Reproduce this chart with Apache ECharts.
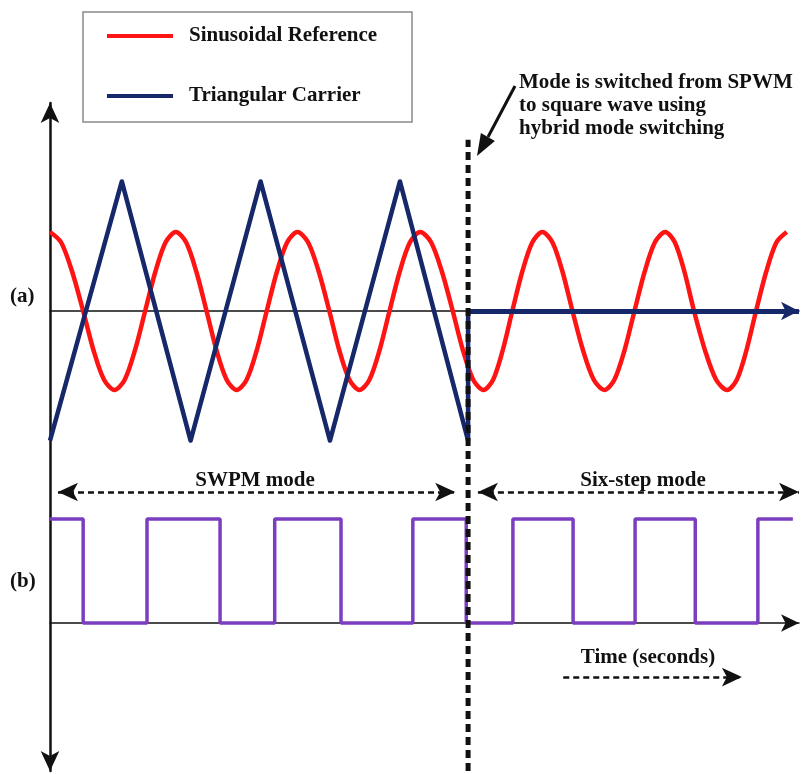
<!DOCTYPE html>
<html><head><meta charset="utf-8">
<script src="https://cdn.jsdelivr.net/npm/echarts@6/dist/echarts.min.js"></script>
<style>html,body{margin:0;padding:0;background:#fff}#c{width:802px;height:774px}</style>
</head><body><div id="c"></div>
<script>
// ---- data (time in ms, amplitudes in per-unit) ----
const sineName = 'Sinusoidal Reference';
const carrierName = 'Triangular Carrier';
const sineRef = [[0,1],[1.8,0.87],[3.6,0.5],[5.4,0],[7.1,-0.5],[8.8,-0.87],[10.5,-1],[12.17,-0.87],[13.83,-0.5],
  [15.5,0],[17.17,0.5],[18.83,0.87],[20.5,1],[22.17,0.87],[23.83,0.5],[25.5,0],[27.13,-0.5],[28.77,-0.87],
  [30.4,-1],[32.03,-0.87],[33.67,-0.5],[35.3,0],[36.97,0.5],[38.63,0.87],[40.3,1],[42.03,0.87],[43.77,0.5],
  [45.5,0],[47.13,-0.5],[48.77,-0.87],[50.4,-1],[52.03,-0.87],[53.67,-0.5],[55.3,0],[56.97,0.5],[58.63,0.87],
  [60.3,1],[62.07,0.87],[63.83,0.5],[65.6,0],[67.27,-0.5],[68.93,-0.87],[70.6,-1],[72.17,-0.87],[73.73,-0.5],
  [75.3,0],[76.93,0.5],[78.57,0.87],[80.2,1],[81.83,0.87],[83.47,0.5],[85.1,0],[86.83,-0.5],[88.57,-0.87],
  [90.3,-1],[91.93,-0.87],[93.57,-0.5],[95.2,0],[96.87,0.5],[98.53,0.87],[100.2,1],[101.77,0.87],[103.33,0.5],
  [104.9,0],[106.7,-0.5],[108.5,-0.87],[110.3,-1],[111.87,-0.87],[113.43,-0.5],[115,0],[116.67,0.5],[118.33,0.87],
  [120,1]];
const carrier = [[0,-1.64],[11.7,1.64],[22.9,-1.64],[34.3,1.64],[45.6,-1.64],[57,1.64],[68.1,-1.64],[68.1,0]];
const carrierFlatEnd = 122;
const switchTime = 68.1;
const gateSignal = [[0,1],[5.4,0],[15.8,1],[27.7,0],[36.6,1],[47.4,0],[59.1,1],[67.8,0],[75.4,1],[85.2,0],
  [95.3,1],[105.1,0],[115.3,1],[121,1]];
const swpmSpan = [1.3, 66.0];
const sixStepSpan = [69.7, 122];
const timeSpan = [83.6, 112.7];
const modeArrowLevel = 1.26;
const timeArrowLevel = -0.52;
const switchLineExtent = [0, 0.945];
const tMax = 122;

const FONT = 'Liberation Serif';
const RED = '#ff1414', NAVY = '#17286a', PURPLE = '#7b3ec0';
const TXT = 'bold 21px "Liberation Serif"';

const chart = echarts.init(document.getElementById('c'), null, {renderer:'canvas'});
const xBase = (idx, showLine, arrow) => ({
  type:'value', gridIndex: idx, min:0, max:tMax,
  axisLabel:{show:false}, axisTick:{show:false}, splitLine:{show:false},
  axisLine:{show:showLine, onZero:true, symbol: arrow ? ['none','arrow'] : ['none','none'],
    symbolSize:[13,18], lineStyle:{color:'#111', width:1.5}}
});
chart.setOption({
  animation:false,
  backgroundColor:'#fff',
  grid:[
    {left:50, width:749, top:153, height:316},
    {left:50, width:749, top:477.4, height:291.2},
    {left:50, width:749, top:103, height:668}
  ],
  xAxis:[ xBase(0,true,false), xBase(1,true,true), Object.assign(xBase(2,false,false),{show:false}) ],
  yAxis:[
    {type:'value', gridIndex:0, min:-2, max:2, show:false},
    {type:'value', gridIndex:1, min:-1.4, max:1.4, show:false},
    {type:'value', gridIndex:2, min:0, max:1, axisLabel:{show:false}, axisTick:{show:false}, splitLine:{show:false},
      axisLine:{show:true, symbol:['arrow','arrow'], symbolSize:[14,20], lineStyle:{color:'#111', width:2.5}}}
  ],
  legend:{
    orient:'vertical', left:83, top:12, data:[sineName, carrierName],
    icon:'rect', itemWidth:66, itemHeight:4, itemGap:38,
    padding:[13,35,15,24], borderColor:'#8a8a8a', borderWidth:1.5, backgroundColor:'#fff',
    selectedMode:false,
    textStyle:{fontFamily:FONT, fontWeight:'bold', fontSize:21, color:'#111', lineHeight:22, padding:[0,0,0,11]}
  },
  series:[
    {type:'line', name:sineName, xAxisIndex:0, yAxisIndex:0, data:sineRef, smooth:0.3, showSymbol:false,
      lineStyle:{color:RED, width:4.5, join:'round'}, itemStyle:{color:RED}, z:2, silent:true},
    {type:'line', name:carrierName, xAxisIndex:0, yAxisIndex:0, data:carrier, showSymbol:false,
      lineStyle:{color:NAVY, width:4.5, join:'round'}, itemStyle:{color:NAVY}, z:3, silent:true,
      markLine:{silent:true, animation:false, label:{show:false}, symbolSize:[14,18],
        lineStyle:{color:NAVY, width:5, type:'solid'},
        data:[[{coord:[switchTime,0], symbol:'none'},{coord:[carrierFlatEnd,0], symbol:'arrow'}]]}},
    {type:'line', name:'Gate', xAxisIndex:1, yAxisIndex:1, data:gateSignal, step:'end', showSymbol:false,
      lineStyle:{color:PURPLE, width:3.5}, itemStyle:{color:PURPLE}, z:3, silent:true,
      markLine:{silent:true, animation:false, label:{show:false}, symbolSize:[14,20],
        lineStyle:{color:'#111', width:2.5, type:[6,4]},
        data:[
          [{coord:[swpmSpan[0],modeArrowLevel], symbol:'arrow'},{coord:[swpmSpan[1],modeArrowLevel], symbol:'arrow'}],
          [{coord:[sixStepSpan[0],modeArrowLevel], symbol:'arrow'},{coord:[sixStepSpan[1],modeArrowLevel], symbol:'arrow'}],
          [{coord:[timeSpan[0],timeArrowLevel], symbol:'none'},{coord:[timeSpan[1],timeArrowLevel], symbol:'arrow'}]
        ]}},
    {type:'line', name:'switch', xAxisIndex:2, yAxisIndex:2, showSymbol:false, silent:true, z:5,
      data:[[switchTime, switchLineExtent[0]],[switchTime, switchLineExtent[1]]],
      lineStyle:{color:'#111', width:5, type:[8,5]}}
  ],
  graphic:[
    {type:'text', left:10, top:286, style:{text:'(a)', font:TXT, fill:'#111'}},
    {type:'text', left:10, top:571, style:{text:'(b)', font:TXT, fill:'#111'}},
    {type:'text', x:255, y:481, style:{text:'SWPM mode', font:TXT, fill:'#111', align:'center', verticalAlign:'middle'}},
    {type:'text', x:643, y:481, style:{text:'Six-step mode', font:TXT, fill:'#111', align:'center', verticalAlign:'middle'}},
    {type:'text', x:648, y:658, style:{text:'Time (seconds)', font:TXT, fill:'#111', align:'center', verticalAlign:'middle'}},
    {type:'text', x:519, y:71, style:{text:'Mode is switched from SPWM\nto square wave using\nhybrid mode switching', font:TXT, lineHeight:23, fill:'#111'}},
    {type:'line', shape:{x1:515, y1:86, x2:488, y2:137}, style:{stroke:'#111', lineWidth:3}},
    {type:'polygon', shape:{points:[[477,156],[494.9,140.9],[480.9,132.9]]}, style:{fill:'#111'}}
  ]
});
</script></body></html>
